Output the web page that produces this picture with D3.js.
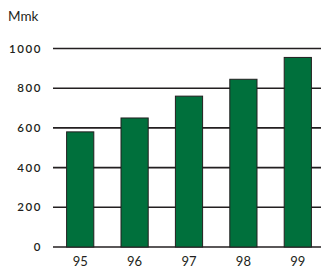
<!DOCTYPE html>
<html>
<head>
<meta charset="utf-8">
<script src="https://cdn.jsdelivr.net/npm/d3@7"></script>
<style>
body { margin: 0; background: #fff; }
text { font-family: Lato, "Open Sans", sans-serif; fill: #231f20; }
</style>
</head>
<body>
<div id="canvas"></div>
<script>
// data
const years = ["95", "96", "97", "98", "99"];
const values = [580, 650, 760, 845, 955];
const yTicks = [0, 200, 400, 600, 800, 1000];
const unitLabel = "Mmk";

const width = 321, height = 268;

const svg = d3.select("#canvas")
    .append("svg")
    .attr("width", width)
    .attr("height", height);

// scales
const x = d3.scaleBand()
    .domain(years)
    .range([53, 325])
    .paddingInner(0.5)
    .paddingOuter(0.25);

const y = d3.scaleLinear()
    .domain([0, 1000])
    .range([247, 48.5]);

// gridlines
svg.append("g")
    .selectAll("line")
    .data(yTicks)
    .join("line")
    .attr("x1", 53)
    .attr("x2", width)
    .attr("y1", d => y(d))
    .attr("y2", d => y(d))
    .attr("stroke", "#231f20")
    .attr("stroke-width", 1.6);

// y labels
svg.append("g")
    .selectAll("text")
    .data(yTicks)
    .join("text")
    .attr("x", 42)
    .attr("y", d => y(d))
    .attr("dy", "0.35em")
    .attr("text-anchor", "end")
    .attr("font-size", 11.5)
    .attr("font-weight", 600)
    .attr("letter-spacing", 1.6)
    .text(d => d);

svg.append("text")
    .attr("x", 8)
    .attr("y", 21)
    .attr("font-size", 13.5)
    .text(unitLabel);

// bars
svg.append("g")
    .selectAll("rect")
    .data(values)
    .join("rect")
    .attr("x", (d, i) => x(years[i]))
    .attr("y", d => y(d))
    .attr("width", x.bandwidth())
    .attr("height", d => y(0) - y(d))
    .attr("fill", "#00703c")
    .attr("stroke", "#231f20")
    .attr("stroke-width", 1);

// x labels
svg.append("g")
    .selectAll("text")
    .data(years)
    .join("text")
    .attr("x", d => x(d) + x.bandwidth() / 2)
    .attr("y", 266)
    .attr("text-anchor", "middle")
    .attr("font-size", 13)
    .text(d => d);
</script>
</body>
</html>
